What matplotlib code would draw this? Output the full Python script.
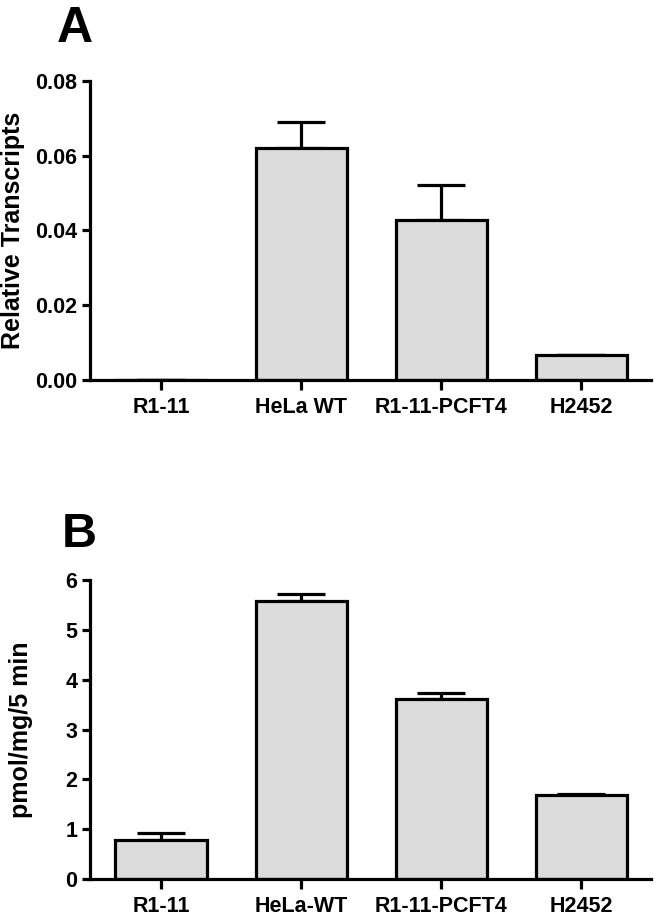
import numpy as np
import matplotlib.pyplot as plt

plt.rcParams['font.family'] = ['Liberation Sans', 'DejaVu Sans']
plt.rcParams['font.weight'] = 'bold'

# panel A: transcripts
labels_a = ['R1-11', 'HeLa WT', 'R1-11-PCFT4', 'H2452']
values_a = [0.0001, 0.0621, 0.0429, 0.0066]
errors_a = [0.0, 0.0068, 0.0092, 0.0002]

# panel B: uptake
labels_b = ['R1-11', 'HeLa-WT', 'R1-11-PCFT4', 'H2452']
values_b = [0.78, 5.57, 3.61, 1.69]
errors_b = [0.14, 0.14, 0.13, 0.02]

fill = '#dcdcdc'
lw = 2.3


def draw_panel(ax, labels, values, errors, ylim, yticks, fmt, ylabel):
    x = np.arange(len(labels))
    ax.bar(x, values, width=0.65, color=fill, edgecolor='black', linewidth=lw, zorder=2)
    ax.errorbar(x, values, yerr=[np.zeros(len(errors)), errors], fmt='none',
                ecolor='black', elinewidth=lw, capsize=17, capthick=lw, zorder=1)
    ax.set_xlim(-0.507, 3.5)
    ax.set_ylim(*ylim)
    ax.set_yticks(yticks)
    ax.set_yticklabels([fmt.format(t) for t in yticks])
    ax.set_xticks(x)
    ax.set_xticklabels(labels)
    for s in ['top', 'right']:
        ax.spines[s].set_visible(False)
    for s in ['left', 'bottom']:
        ax.spines[s].set_linewidth(lw)
    ax.tick_params(axis='y', width=lw, length=6, labelsize=15.5, pad=3)
    ax.tick_params(axis='x', width=lw, length=7, labelsize=15.5, pad=5)
    ax.set_ylabel(ylabel, fontsize=18, fontweight='bold')
    for t in ax.get_xticklabels() + ax.get_yticklabels():
        t.set_fontweight('bold')


fig = plt.figure(figsize=(6.57, 9.17), dpi=100)

ax1 = fig.add_axes([0.137, 0.5856, 0.854, 0.3261])
draw_panel(ax1, labels_a, values_a, errors_a, (0, 0.08),
           [0, 0.02, 0.04, 0.06, 0.08], '{:.2f}', 'Relative Transcripts')
ax1.yaxis.set_label_coords(-0.116, 0.5)

ax2 = fig.add_axes([0.137, 0.0414, 0.854, 0.3261])
draw_panel(ax2, labels_b, values_b, errors_b, (0, 6),
           [0, 1, 2, 3, 4, 5, 6], '{:.0f}', 'pmol/mg/5 min')
ax2.yaxis.set_label_coords(-0.102, 0.5)

fig.text(0.086, 0.954, 'A', fontsize=36, fontweight='bold', va='baseline')
fig.text(0.094, 0.403, 'B', fontsize=35, fontweight='bold', va='baseline')

fig.savefig('out.png', dpi=100)
